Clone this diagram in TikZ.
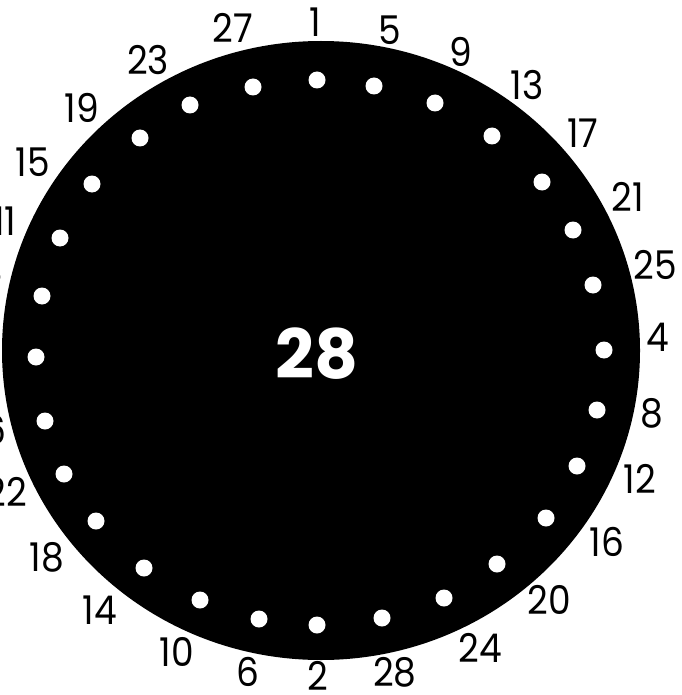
\documentclass[tikz,border=0pt]{standalone}
\usepackage{fontspec}
\setmainfont{Poppins}
\begin{document}
\begin{tikzpicture}[x=1pt,y=-1pt,
  lbl/.style={font=\fontsize{36}{36}\selectfont, text=black, inner sep=0pt, anchor=center},
  hole/.style={circle, fill=white, draw=none, minimum size=17pt, inner sep=0pt}]
\useasboundingbox (0,0) rectangle (681,695);
\clip (0,0) rectangle (681,695);
\fill[black] (321,350.5) ellipse [x radius=319, y radius=309.5];
\node[font=\fontsize{68}{68}\selectfont\bfseries, text=white, inner sep=0pt] (centre) at (317,354) {28};
% holes
\foreach \n/\x/\y in {h1/317/80, h5/374/86, h9/435/103, h13/492/136, h17/542/182, h21/573/230, h25/593/285,
  h4/604/350, h8/597/410, h12/577/466, h16/546/518, h20/497/564, h24/444/598, h28/382/618,
  h2/317/625, h6/259/619, h10/200/600, h14/144/568, h18/96/521, h22/64/474, h26/45/421,
  h3/36/357, h7/42/296, h11/60/238, h15/92/184, h19/140/138, h23/190/105, h27/253/87}
  \node[hole] (\n) at (\x,\y) {};
% labels
\foreach \t/\x/\y in {1/315/22, 5/390/30, 9/461/52, 13/527/85, 17/583/133, 21/628/197, 25/655/265,
  4/658/337, 8/652/413, 12/640/479, 16/607/542, 20/549/600, 24/480/648, 28/395/672,
  2/318/676, 6/248/672, 10/177/652, 14/100/610, 18/47/557, 22/6/492, 26/-15/430,
  3/-12/357, 7/-8/290, 11/5/221, 15/33/162, 19/82/108, 23/148/60, 27/233/28}
  \node[lbl] (l\t) at (\x,\y) {\scalebox{1}[1.1]{\t}};
\end{tikzpicture}
\end{document}
